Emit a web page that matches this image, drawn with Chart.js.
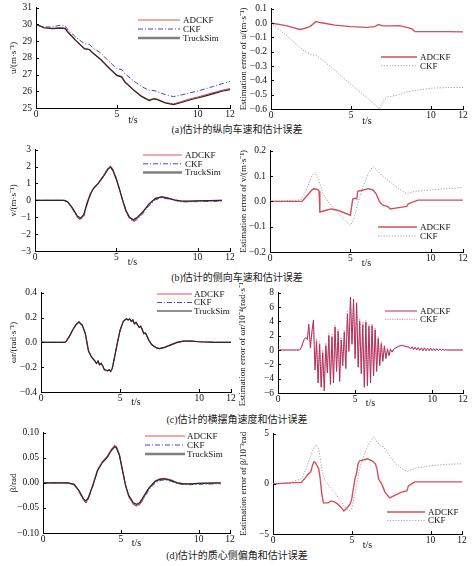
<!DOCTYPE html>
<html><head><meta charset="utf-8">
<script src="https://cdn.jsdelivr.net/npm/chart.js@4/dist/chart.umd.min.js"></script>
<style>
html,body{margin:0;padding:0;background:#fff}
body{position:relative;width:474px;height:566px;overflow:hidden}
canvas{position:absolute}
.cap{position:absolute;left:0;width:474px;text-align:center;font-size:10px;line-height:12px;font-family:"Liberation Serif","Noto Sans CJK SC",serif;color:#222;white-space:nowrap}
</style></head><body>
<div class="cap" style="top:124px">(a)估计的纵向车速和估计误差</div>
<div class="cap" style="top:272px">(b)估计的侧向车速和估计误差</div>
<div class="cap" style="top:414px">(c)估计的横摆角速度和估计误差</div>
<div class="cap" style="top:550px">(d)估计的质心侧偏角和估计误差</div>
<script>
// ---------- data ----------
const xTicks = [0, 5, 10, 12];
const seriesNames = ['ADCKF', 'CKF', 'TruckSim'];

// (a) longitudinal speed u (m/s)
const tA = [0,0.5,1,1.5,1.8,2,2.5,3,3.3,3.5, 4,4.5,5,5.3,5.5,6,6.5,7,7.3,7.5, 8,8.5,9,9.5,10,10.5,11,11.5,12];
const uTruck = [30.0,29.8,29.75,29.78,29.75,29.5,29.0,28.55,28.5,28.3, 27.9,27.4,26.95,26.85,26.55,26.1,25.7,25.45,25.55,25.5, 25.3,25.2,25.33,25.48,25.6,25.73,25.86,26.0,26.1];
const uADCKF = [30.0,29.8,29.77,29.8,29.78,29.52,29.0,28.54,28.5,28.31, 27.91,27.42,26.97,26.88,26.58,26.13,25.73,25.47,25.57,25.52, 25.32,25.23,25.39,25.54,25.66,25.79,25.92,26.06,26.16];
const uCKF = [30.0,29.85,29.85,29.95,29.9,29.65,29.2,28.85,28.8,28.6, 28.3,27.8,27.35,27.3,27.05,26.65,26.3,26.05,26.05,25.98, 25.8,25.68,25.78,25.9,26.02,26.15,26.3,26.45,26.58];
// (a) errors
const tAeAD = [0,1,1.8,2.0,2.3,2.5,2.8,3.0,3.5,4, 5,6,6.5,6.7,7,7.5,8,8.5,8.8,9, 10,11,12];
const uErrADCKF = [0,-0.02,-0.045,-0.04,-0.03,-0.02,0.01,0.005,-0.005,-0.015, -0.025,-0.03,-0.025,-0.01,-0.02,-0.02,-0.018,-0.03,-0.04,-0.06, -0.06,-0.06,-0.062];
const tAeCKF = [0,1,2,2.5,2.8,3,4,5,6,6.5, 6.75,6.9,7.1,7.3,7.6,8,8.5,9,10,11, 12];
const uErrCKF = [0,-0.09,-0.19,-0.22,-0.225,-0.24,-0.33,-0.43,-0.52,-0.57, -0.6,-0.57,-0.53,-0.515,-0.51,-0.5,-0.48,-0.47,-0.455,-0.45, -0.45];

// (b) lateral speed v (m/s)
const tB = [0,1.8,2.0,2.3,2.6,2.8,3.0,3.2,3.4,3.6, 3.9,4.2,4.5,4.65,4.8,5.0,5.2,5.4,5.6,5.8, 6.05,6.3,6.6,7.0,7.4,7.8,8.2,8.6,9.0,9.5, 10,11.5];
const vTruck = [0,0,-0.08,-0.45,-0.92,-1.05,-0.85,-0.2,0.35,0.7, 1.0,1.4,1.85,1.97,1.75,1.25,0.65,0.0,-0.6,-0.98, -1.15,-1.0,-0.72,-0.24,0.1,0.2,0.12,0.02,-0.05,-0.05, -0.03,0.0];
const vADCKF = [0,0,-0.08,-0.47,-0.96,-1.1,-0.89,-0.16,0.38,0.73, 1.03,1.44,1.89,2.01,1.79,1.3,0.64,-0.03,-0.64,-1.02, -1.2,-1.05,-0.74,-0.23,0.12,0.22,0.14,0.03,-0.05,-0.055, -0.035,-0.005];
const vCKF = [0,0,-0.09,-0.5,-1.02,-1.165,-0.95,-0.26,0.33,0.71, 1.03,1.46,1.92,2.05,1.84,1.34,0.67,-0.04,-0.67,-1.06, -1.27,-1.13,-0.84,-0.34,0.03,0.15,0.08,-0.01,-0.09,-0.095, -0.075,-0.055];
// (b) errors
const tBeAD = [0,1.9,2.0,2.2,2.4,2.6,2.7,2.9,3.0,3.05, 3.1,3.5,3.8,4.2,4.6,5.0,5.05,5.15,5.3,5.4, 5.45,5.8,6.1,6.4,6.6,6.8,7.0,7.3,7.5,8.0, 8.5,8.6,9.0,9.2,10,12];
const vErrADCKF = [0,0,0.0,0.015,0.03,0.045,0.05,0.048,0.045,0.04, -0.042,-0.035,-0.03,-0.035,-0.045,-0.055,-0.03,0.01,0.012,0.01, 0.04,0.045,0.05,0.045,0.03,0.0,-0.015,-0.02,-0.03,-0.025, -0.02,-0.01,0.0,0.005,0.005,0.005];
const tBeCKF = [0,1.8,2.0,2.3,2.6,2.8,3.0,3.3,3.6,4.0, 4.5,5.0,5.2,5.5,5.8,6.1,6.4,6.7,7.0,7.5, 8.0,8.5,8.8,9.0,10,11,12];
const vErrCKF = [0,0.005,0.01,0.05,0.1,0.115,0.09,0.03,0.0,-0.03, -0.065,-0.095,-0.07,0.0,0.06,0.11,0.138,0.12,0.1,0.075, 0.05,0.03,0.035,0.04,0.045,0.05,0.055];

// (c) yaw rate (rad/s)
const tC = [0,1.5,1.6,1.8,2.0,2.2,2.4,2.5,2.6,2.8, 3.0,3.2,3.4,3.5,3.6,3.7,3.8,3.9,4.0,4.2, 4.3,4.4,4.5,4.6,4.8,5.0,5.2,5.4,5.5,5.6, 5.7,5.8,5.9,6.0,6.2,6.3,6.5,6.6,6.8,7.0, 7.3,7.5,7.8,8.2,8.6,9.0,9.5,10,11,12];
const wTruck = [0,0,0.01,0.05,0.1,0.14,0.165,0.15,0.14,0.07, -0.07,-0.12,-0.15,-0.17,-0.15,-0.18,-0.17,-0.19,-0.22,-0.23, -0.22,-0.235,-0.21,-0.15,-0.02,0.1,0.17,0.19,0.18,0.19, 0.17,0.18,0.15,0.16,0.12,0.13,0.07,0.075,0.02,-0.02, -0.045,-0.05,-0.04,-0.02,0.0,0.01,0.01,0.005,0.0,0.0];
const wADCKF = wTruck;   // indistinguishable from TruckSim at this scale
const wCKF = wTruck;
// (c) errors, 10^-4 rad/s
const tCe = [0,1.4,1.5,1.6,1.7,1.8,1.9,2.0,2.1,2.2,2.3, 2.4,2.5,2.6,2.7,2.8,2.9,3.0,3.1,3.2,3.3, 3.4,3.5,3.6,3.7,3.8,3.9,4.0,4.1,4.2,4.3, 4.4,4.5,4.6,4.7,4.8,4.9,5.0,5.1,5.2,5.3, 5.4,5.5,5.6,5.7,5.8,5.9,6.0,6.1,6.2,6.3, 6.4,6.5,6.6,6.7,6.8,6.9,7.0,7.1,7.2,7.3, 7.4,7.5, 7.8,8.0,8.2,8.5, 8.6,8.7,8.8,8.9,9.0,9.1,9.2,9.3,9.4,9.5, 9.6,9.7,9.8,9.9,10.0,10.1,10.2,10.3,10.4,10.5, 10.6,10.7,10.8,10.9,11.0, 12];
const wErrADCKF = [0, 0,0.3,0.9,1.5,1.75,1.5,3.6,0.3,2.6,4.2, -2.8,1.2,-4.6,0.8,-5.2,-0.4,-5.7,0.6,-3.2,2.0, -4.8,1.8,-4.6,3.2,-3.0,2.6,-4.4,1.4,-2.2,2.5, -2.6,5.0,-0.2,7.4,0.8,7.1,-1.2,6.6,-2.4,4.0, -3.3,3.5,-5.2,3.9,-5.0,3.3,-4.6,3.4,-3.6,2.8, -3.0,1.6,-2.2,0.9,-1.6,0.5,-1.2,0.1,-0.8,0.1, -0.3,0.1, 0.5,0.65,0.55,0.4, 0.15,0.45,0.05,0.4,0.0,0.35,-0.05,0.3,-0.1,0.3, -0.1,0.25,-0.1,0.25,-0.1,0.2,-0.1,0.2,-0.1,0.15, -0.05,0.1,-0.05,0.05,0.0, 0];
const wErrCKF = [0, 0,0.3,0.9,1.5,1.7,1.4,3.2,0.6,2.2,3.8, -2.2,1.6,-4.0,1.2,-4.8,0.0,-5.2,1.0,-2.6,2.4, -4.2,2.2,-4.0,3.5,-2.5,2.9,-3.8,1.8,-1.7,2.8, -2.0,5.4,0.3,6.9,1.3,6.6,-0.7,6.1,-1.9,4.4, -2.8,3.9,-4.7,4.2,-4.5,3.6,-4.1,3.7,-3.1,3.1, -2.6,1.9,-1.8,1.2,-1.3,0.7,-0.9,0.3,-0.6,0.2, -0.2,0.15, 0.5,0.65,0.55,0.4, 0.2,0.4,0.1,0.35,0.05,0.3,0.0,0.3,-0.05,0.25, -0.05,0.25,-0.05,0.2,-0.05,0.2,-0.05,0.15,-0.05,0.15, 0.0,0.1,0.0,0.05,0.0, 0];

// (d) sideslip angle beta (rad)
const tD = [0,1.6,2.0,2.3,2.6,2.75,2.9,3.2,3.5,3.8, 4.1,4.4,4.6,4.7,4.9,5.1,5.3,5.5,5.8,6.0, 6.2,6.5,6.8,7.2,7.5,7.8,8.2,8.6,9.0,9.5, 10,11.4];
const bTruck = [0,0,-0.003,-0.015,-0.032,-0.036,-0.03,-0.005,0.024,0.04, 0.05,0.065,0.072,0.07,0.055,0.025,-0.005,-0.025,-0.04,-0.043, -0.04,-0.025,-0.01,0.003,0.007,0.008,0.005,0.0,-0.002,-0.002, -0.001,0.0];
const bADCKF = [0,0,-0.0035,-0.016,-0.034,-0.038,-0.0315,-0.0035,0.026,0.042, 0.052,0.067,0.0745,0.0725,0.057,0.0255,-0.006,-0.027,-0.0424,-0.0455, -0.0425,-0.027,-0.0115,0.0035,0.0082,0.0092,0.0058,0.0004,-0.0022,-0.0022, -0.0012,-0.0002];
const bCKF = [0,-0.0003,-0.004,-0.017,-0.035,-0.04,-0.0335,-0.006,0.0245,0.041, 0.0515,0.067,0.075,0.073,0.0575,0.026,-0.005,-0.0265,-0.043,-0.0465, -0.0445,-0.0295,-0.0138,0.0,0.0045,0.006,0.0035,-0.0013,-0.0035,-0.0037, -0.0028,-0.002];
// (d) errors, 10^-3 rad
const tDeAD = [0,1.8,2.0,2.2,2.4,2.5,2.6,2.7,2.8,2.9, 3.0,3.1,3.2,3.5,3.7,3.9,4.1,4.3,4.5,4.7, 4.9,5.0,5.1,5.2,5.3,5.4,5.5,5.8,6.0,6.3, 6.5,6.6,6.7,6.9,7.1,7.4,7.8,8.2,8.5,8.6, 8.8,9.0,10,12];
const bErrADCKF = [0,0.15,0.5,0.9,1.2,1.8,2.2,2.1,1.8,1.5, 0.5,-1.0,-1.9,-1.9,-1.7,-1.8,-2.0,-2.3,-2.7,-2.4, -2.0,-1.5,-0.5,0.5,1.0,2.0,2.3,2.4,2.5,2.3, 2.0,1.5,0.5,0.0,-0.8,-1.4,-1.1,-0.8,-0.7,-0.2, 0.0,0.2,0.2,0.2];
const tDeCKF = [0,1.0,1.8,2.1,2.4,2.6,2.75,2.9,3.1,3.3, 3.6,3.9,4.2,4.5,4.8,5.0,5.2,5.5,5.8,6.1, 6.4,6.6,6.8,7.0,7.2,7.5,7.8,8.2,8.5,8.8, 9.2,10,11,12];
const bErrCKF = [0,0.1,0.5,1.5,2.8,3.6,3.9,3.5,1.5,0.3, -0.3,-0.8,-1.5,-2.2,-2.7,-2.5,-1.0,1.5,3.0,4.0, 4.7,4.2,3.8,3.7,3.3,2.6,2.0,1.5,1.25,1.4, 1.6,1.8,1.95,2.0];

// ---------- drawing ----------
const SERIF = '"Liberation Serif","Times New Roman",serif';
const PT = 8, PR = 10;
const pts = (t, v) => t.map((x, i) => ({x: x, y: v[i]}));
const fmt = d => v => (v < 0 ? '\u2212' : '') + Math.abs(v).toFixed(d);

const ST = {
  lAD:  {color:'#e0505c', width:1.2, dash:[]},
  lCKF: {color:'#4646c8', width:1.0, dash:[5,2,1,2]},
  lTS:  {color:'#2a2a2a', width:1.2, dash:[]},
  rAD:  {color:'#d24f5c', width:1.4, dash:[]},
  rCKF: {color:'#a3a3a3', width:1.0, dash:[1.2,1.6]},
  cAD:  {color:'#b3305a', width:1.0, dash:[]},
  cCKF: {color:'#e5849c', width:1.0, dash:[1.2,1.2]}
};

function ds(label, t, v, s) {
  return {label, data: pts(t, v), borderColor: s.color, borderWidth: s.width, borderDash: s.dash,
    pointRadius: 0, fill: false, tension: 0, spanGaps: true};
}

function make(p) {
  const ySize = 9, lhY = ySize * 1.2;
  const left = Math.round(p.yTitleX - lhY / 2), top = Math.round(p.area[1] - PT);
  const W = Math.round(p.area[2] + PR - left), H = Math.round(p.xTitleY + 6 - top);
  const yw = p.area[0] - left, xh = (top + H) - p.area[3];
  const cv = document.createElement('canvas');
  cv.width = W; cv.height = H;
  cv.style.left = left + 'px'; cv.style.top = top + 'px';
  cv.style.width = W + 'px'; cv.style.height = H + 'px';
  document.body.appendChild(cv);
  const lg = p.legend;
  const inTicks = {id: 'inTicks', afterDraw(c) {
    const {ctx, chartArea: a, scales: {x, y}} = c;
    ctx.save(); ctx.strokeStyle = '#000'; ctx.lineWidth = 1; ctx.beginPath();
    x.ticks.forEach(t => { const q = Math.round(x.getPixelForValue(t.value)) + 0.5; ctx.moveTo(q, a.bottom); ctx.lineTo(q, a.bottom - 3); });
    y.ticks.forEach(t => { const q = Math.round(y.getPixelForValue(t.value)) + 0.5; ctx.moveTo(a.left, q); ctx.lineTo(a.left + 3, q); });
    ctx.stroke(); ctx.restore();
  }};
  const legendPlugin = {id: 'lg', afterDraw(c) {
    const ctx = c.ctx; ctx.save();
    lg.items.forEach((it, i) => {
      const yy = lg.y + i * lg.dy - top;
      ctx.strokeStyle = it.color; ctx.lineWidth = it.width; ctx.setLineDash(it.dash || []);
      ctx.beginPath(); ctx.moveTo(lg.x1 - left, yy); ctx.lineTo(lg.x2 - left, yy); ctx.stroke();
      ctx.setLineDash([]);
      ctx.fillStyle = '#111'; ctx.font = '9px ' + SERIF; ctx.textBaseline = 'middle'; ctx.textAlign = 'left';
      ctx.fillText(it.label, lg.tx - left, yy + 0.5);
    });
    ctx.restore();
  }};
  new Chart(cv, {
    type: 'line',
    data: {datasets: p.datasets},
    options: {
      responsive: false, animation: false, events: [], devicePixelRatio: 1,
      layout: {padding: {top: PT, right: PR, left: 0, bottom: 0}},
      plugins: {legend: {display: false}, tooltip: {enabled: false}},
      scales: {
        x: {type: 'linear', min: 0, max: 12,
          afterBuildTicks: s => { s.ticks = xTicks.map(v => ({value: v})); },
          afterFit: s => { s.height = xh; },
          grid: {display: true, drawOnChartArea: false, drawTicks: false},
          border: {display: true, color: '#000', width: 1},
          ticks: {padding: 1, autoSkip: false, maxRotation: 0, color: '#111', font: {family: SERIF, size: 9.5}, callback: v => String(v)},
          title: {display: true, text: 't/s', padding: 0, color: '#111', font: {family: SERIF, size: 10}}
        },
        y: {type: 'linear', min: p.yMin, max: p.yMax,
          afterFit: s => { s.width = yw; },
          grid: {display: true, drawOnChartArea: false, drawTicks: false},
          border: {display: true, color: '#000', width: 1},
          ticks: {stepSize: p.yStep, padding: 4, autoSkip: false, color: '#111', font: {family: SERIF, size: 9.5}, callback: fmt(p.yDec)},
          title: {display: true, text: p.yTitle, padding: 0, color: '#111', font: {family: SERIF, size: ySize}}
        }
      }
    },
    plugins: [inTicks, legendPlugin]
  });
}

const legL = (x1, x2, tx, y, dy, tsStyle) => ({x1, x2, tx, y, dy, items: [
  {label: 'ADCKF', color: ST.lAD.color, width: 1.2, dash: []},
  {label: 'CKF', color: ST.lCKF.color, width: 1, dash: ST.lCKF.dash},
  {label: 'TruckSim', color: tsStyle.color, width: tsStyle.width, dash: []}]});
const legR = (x1, x2, tx, y, dy, a, c) => ({x1, x2, tx, y, dy, items: [
  {label: 'ADCKF', color: a.color, width: a.width, dash: []},
  {label: 'CKF', color: c.color, width: 1, dash: c.dash}]});
const thickTS = {color: '#808080', width: 2.5}, thinTS = {color: '#222', width: 1};

// (a)
make({area: [36, 6, 230, 108], yTitleX: 13, xTitleY: 120, yMin: 25, yMax: 31, yStep: 1, yDec: 0,
  yTitle: 'u/(m·s⁻¹)',
  datasets: [ds('TruckSim', tA, uTruck, ST.lTS), ds('ADCKF', tA, uADCKF, ST.lAD), ds('CKF', tA, uCKF, ST.lCKF)],
  legend: legL(138, 180, 183, 20, 9, thickTS)});
make({area: [271, 7, 463, 109], yTitleX: 243, xTitleY: 121, yMin: -0.6, yMax: 0.1, yStep: 0.1, yDec: 1,
  yTitle: 'Estimation error of u/(m·s⁻¹)',
  datasets: [ds('ADCKF', tAeAD, uErrADCKF, ST.rAD), ds('CKF', tAeCKF, uErrCKF, ST.rCKF)],
  legend: legR(381, 417, 420, 57, 8.7, ST.rAD, ST.rCKF)});
// (b)
make({area: [35, 148, 230, 251], yTitleX: 13, xTitleY: 262, yMin: -3, yMax: 3, yStep: 1, yDec: 0,
  yTitle: 'v/(m·s⁻¹)',
  datasets: [ds('TruckSim', tB, vTruck, ST.lTS), ds('ADCKF', tB, vADCKF, ST.lAD), ds('CKF', tB, vCKF, ST.lCKF)],
  legend: legL(143, 182, 185, 155, 8.8, thickTS)});
make({area: [270, 149, 463, 252], yTitleX: 243, xTitleY: 263, yMin: -0.2, yMax: 0.2, yStep: 0.1, yDec: 1,
  yTitle: 'Estimation error of v/(m·s⁻¹)',
  datasets: [ds('ADCKF', tBeAD, vErrADCKF, ST.rAD), ds('CKF', tBeCKF, vErrCKF, ST.rCKF)],
  legend: legR(378, 417, 420, 227, 9, ST.rAD, ST.rCKF)});
// (c)
make({area: [41, 291, 231, 392], yTitleX: 13, xTitleY: 402, yMin: -0.4, yMax: 0.4, yStep: 0.2, yDec: 1,
  yTitle: 'ωr/(rad·s⁻¹)',
  datasets: [ds('TruckSim', tC, wTruck, ST.lTS), ds('ADCKF', tC, wADCKF, ST.lAD), ds('CKF', tC, wCKF, ST.lCKF)],
  legend: legL(157, 192, 194, 294, 8.5, thinTS)});
make({area: [278, 291, 463, 393], yTitleX: 242, xTitleY: 403, yMin: -6, yMax: 8, yStep: 2, yDec: 0,
  yTitle: 'Estimation error of ωr/10⁻⁴(rad·s⁻¹)',
  datasets: [ds('ADCKF', tCe, wErrADCKF, ST.cAD), ds('CKF', tCe, wErrCKF, ST.cCKF)],
  legend: legR(385, 417, 420, 311, 8.3, ST.cAD, ST.cCKF)});
// (d)
make({area: [43, 431, 230, 533], yTitleX: 13, xTitleY: 543, yMin: -0.1, yMax: 0.1, yStep: 0.05, yDec: 2,
  yTitle: 'β/rad',
  datasets: [ds('TruckSim', tD, bTruck, ST.lTS), ds('ADCKF', tD, bADCKF, ST.lAD), ds('CKF', tD, bCKF, ST.lCKF)],
  legend: legL(145, 185, 187, 436, 9, thickTS)});
make({area: [273, 432, 462, 534], yTitleX: 243, xTitleY: 545, yMin: -5, yMax: 5, yStep: 5, yDec: 0,
  yTitle: 'Estimation error of β/10⁻³rad',
  datasets: [ds('ADCKF', tDeAD, bErrADCKF, ST.rAD), ds('CKF', tDeCKF, bErrCKF, ST.rCKF)],
  legend: legR(387, 425, 428, 512, 8.4, ST.rAD, ST.rCKF)});
</script>
</body></html>
